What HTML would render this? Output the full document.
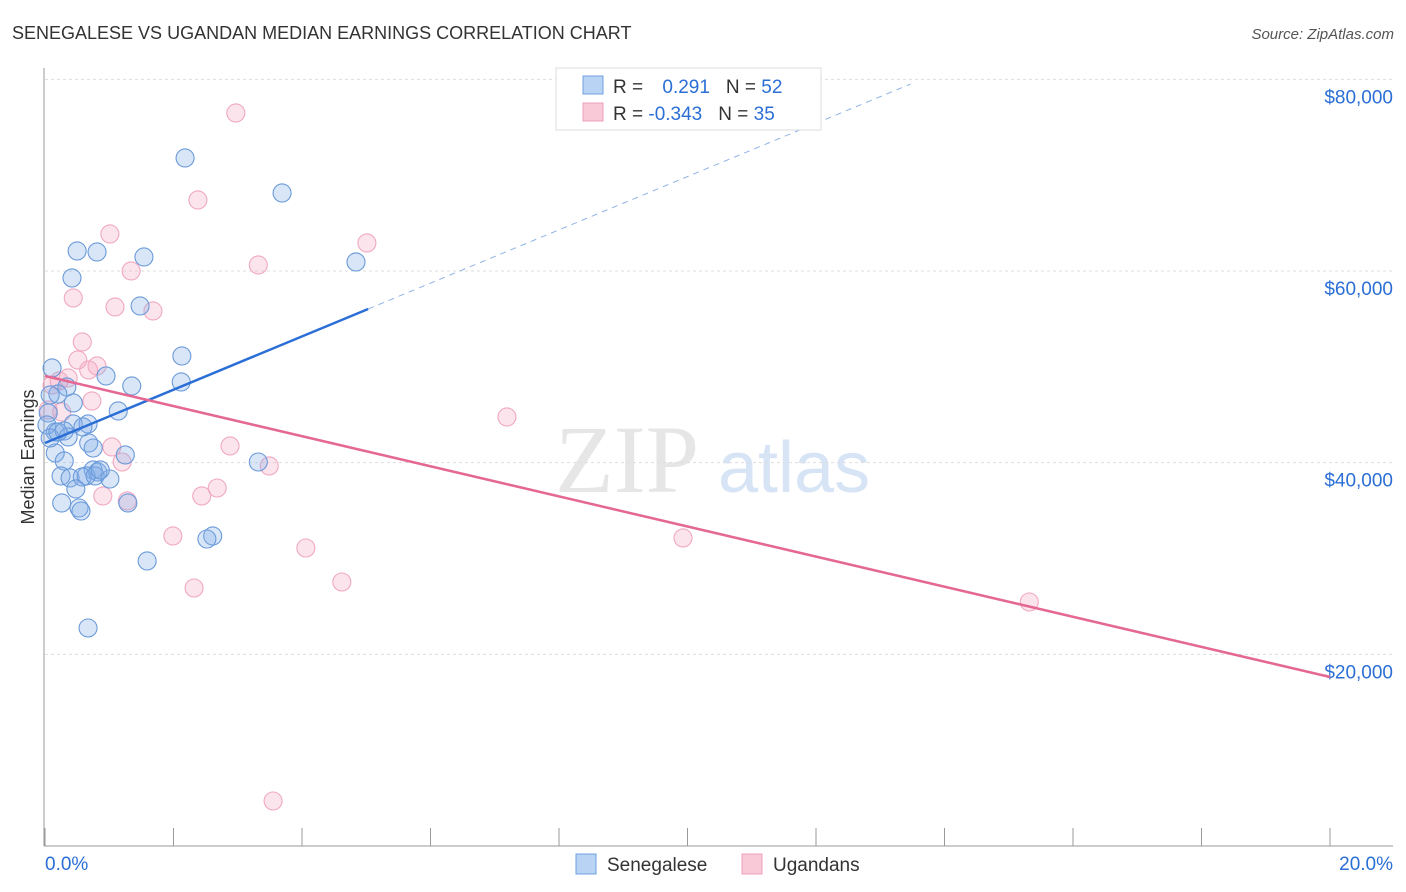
<!DOCTYPE html>
<html><head><meta charset="utf-8"><style>
body{margin:0;background:#fff;font-family:"Liberation Sans",sans-serif}
svg{display:block}
</style></head><body>
<svg id="chart" width="1406" height="892">
<text x="12" y="39" font-size="18" fill="#333">SENEGALESE VS UGANDAN MEDIAN EARNINGS CORRELATION CHART</text>
<text x="1394" y="39" font-size="15" fill="#555" font-style="italic" text-anchor="end">Source: ZipAtlas.com</text>
<text x="555" y="492" font-size="96" fill="#e6e6e6" font-family="Liberation Serif,serif">ZIP</text>
<text x="718" y="492" font-size="72" fill="#d6e4f5">atlas</text>
<text transform="translate(34,457) rotate(-90)" font-size="18" fill="#333" text-anchor="middle">Median Earnings</text>
<g id="grid"></g><g id="axes"></g><g id="pts"></g><g id="lines"></g>
<g>
<rect x="556" y="68" width="265" height="62" fill="#fff" stroke="#ddd"/>
<rect x="583" y="76" width="20" height="18" fill="#b9d3f5" stroke="#6f9fe0"/>
<rect x="583" y="103" width="20" height="18" fill="#f9c9d8" stroke="#eda0b8"/>
<text x="613" y="93" font-size="19" fill="#333">R = <tspan fill="#2b6fd6" dx="14">0.291</tspan><tspan dx="16" fill="#333">N = </tspan><tspan fill="#2b6fd6">52</tspan></text>
<text x="613" y="120" font-size="19" fill="#333">R = <tspan fill="#2b6fd6">-0.343</tspan><tspan dx="16" fill="#333">N = </tspan><tspan fill="#2b6fd6">35</tspan></text>
</g>
<g>
<rect x="576" y="854" width="20" height="20" fill="#b9d3f5" stroke="#6f9fe0"/>
<text x="607" y="871" font-size="19" fill="#333">Senegalese</text>
<rect x="742" y="854" width="20" height="20" fill="#f9c9d8" stroke="#eda0b8"/>
<text x="773" y="871" font-size="19" fill="#333">Ugandans</text>
</g>
</svg>
<script>
const yTicks=[20000,40000,60000,80000];
const yTickLabels=["$20,000","$40,000","$60,000","$80,000"];
const xTicks=[0,2,4,6,8,10,12,14,16,18,20];
const senX=[2.18,3.69,0.50,0.81,1.54,4.84,0.42,1.48,2.13,0.11,0.95,1.35,2.12,0.34,0.20,0.08,0.44,1.14,0.05,0.44,0.67,0.59,0.16,0.30,0.36,0.68,0.75,1.25,0.16,0.30,3.32,0.75,0.82,0.25,0.39,0.64,0.58,0.78,1.01,0.48,0.26,0.53,0.56,1.29,2.61,2.52,1.59,0.67,0.03,0.08,0.20,0.86];
const senY=[71793,68140,62088,61984,61462,60940,59271,56349,51132,49879,49045,48001,48418,47897,47166,47062,46227,45392,45184,44036,44036,43723,43201,43305,42679,42053,41531,40801,41010,40175,40070,39236,39027,38610,38401,38610,38505,38610,38296,37253,35792,35270,34957,35792,32349,32035,29740,22748,43931,42575,43201,39236];
const ugaX=[2.97,2.38,1.01,5.01,3.32,1.34,0.44,1.09,1.68,0.58,0.51,0.81,0.68,0.22,0.36,0.11,0.73,0.26,0.05,7.19,1.04,2.88,1.20,3.49,2.68,2.44,0.90,1.28,1.99,9.93,4.06,2.32,4.62,15.32,3.55];
const ugaY=[76489,67410,63862,62923,60627,60001,57184,56245,55827,52592,50714,50088,49671,48523,48836,48105,46436,45288,45497,44766,41636,41740,40070,39653,37357,36523,36523,36001,32349,32140,31096,26922,27548,25461,4696];
const senTrend=[42053,2780];
const ugaTrend=[49045,-1570.5];
const X=v=>45+v*64.25, Y=v=>846-v*191.67/20000;
const NS="http://www.w3.org/2000/svg";
function mk(p,t,a){const e=document.createElementNS(NS,t);for(const k in a)e.setAttribute(k,a[k]);p.appendChild(e);return e;}
const grid=document.getElementById('grid'),axes=document.getElementById('axes'),pts=document.getElementById('pts'),lines=document.getElementById('lines');
yTicks.forEach((t,i)=>{
 const l=mk(grid,'line',{x1:45,x2:1393,y1:Y(t),y2:Y(t),stroke:'#ddd','stroke-dasharray':'3,3'});
 
 
 const tx=mk(axes,'text',{x:1393,y:Y(t)+24,'font-size':19,fill:'#2b6fd6','text-anchor':'end'});
 tx.textContent=yTickLabels[i];
 
 
});
mk(axes,'line',{x1:44,x2:44,y1:68,y2:846,stroke:'#999'});
mk(axes,'line',{x1:44,x2:1393,y1:846,y2:846,stroke:'#999'});
xTicks.forEach(t=>{
 const l=mk(axes,'line',{x1:X(t),x2:X(t),y1:828,y2:846,stroke:'#999'});
 
 
});
let a=mk(axes,'text',{x:45,y:870,'font-size':19,fill:'#2b6fd6'});a.textContent='0.0%';


a=mk(axes,'text',{x:1393,y:870,'font-size':19,fill:'#2b6fd6','text-anchor':'end'});a.textContent='20.0%';


ugaX.forEach((x,i)=>{
 const c=mk(pts,'circle',{cx:X(x),cy:Y(ugaY[i]),r:9,fill:'rgba(244,165,192,0.3)',stroke:'#f0a8c0','stroke-width':1.1});
 
 
});
senX.forEach((x,i)=>{
 const c=mk(pts,'circle',{cx:X(x),cy:Y(senY[i]),r:9,fill:'rgba(130,172,232,0.3)',stroke:'#6a9ad9','stroke-width':1.1});
 
 
});
const sv=x=>senTrend[0]+senTrend[1]*x, uv=x=>ugaTrend[0]+ugaTrend[1]*x;
let l=mk(lines,'line',{x1:X(0),y1:Y(sv(0)),x2:X(5.03),y2:Y(sv(5.03)),stroke:'#2b6fd6','stroke-width':2.5});


l=mk(lines,'line',{x1:X(5.03),y1:Y(sv(5.03)),x2:X(13.47),y2:Y(sv(13.47)),stroke:'#8fb3e6','stroke-width':1,'stroke-dasharray':'6,5'});


l=mk(lines,'line',{x1:X(0),y1:Y(uv(0)),x2:X(20),y2:Y(uv(20)),stroke:'#e46893','stroke-width':2.5});


</script>
</body></html>
